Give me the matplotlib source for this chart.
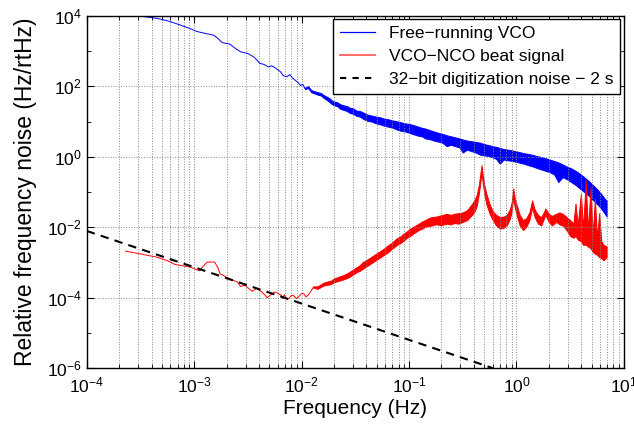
import numpy as np
import matplotlib
matplotlib.use("Agg")
import matplotlib.pyplot as plt
from matplotlib.lines import Line2D
from matplotlib.ticker import LogLocator, NullFormatter

plt.rcParams['font.family'] = ['Liberation Sans', 'DejaVu Sans']
plt.rcParams['mathtext.fontset'] = 'custom'
plt.rcParams['mathtext.rm'] = 'Liberation Sans'
plt.rcParams['mathtext.it'] = 'Liberation Sans:italic'
plt.rcParams['mathtext.bf'] = 'Liberation Sans:bold'

# values, stored as log10 exponents
# free-running VCO: thin wiggly part (single line)
blue_logf = [-3.60, -3.53, -3.45, -3.35, -3.25, -3.15, -3.04, -2.98, -2.94, -2.82,
             -2.78, -2.74, -2.67, -2.62, -2.57, -2.50, -2.45, -2.42, -2.39, -2.35,
             -2.31, -2.28, -2.25, -2.20, -2.17, -2.14, -2.11, -2.08, -2.06, -2.03,
             -2.01, -1.99, -1.97]
blue_logy = [4.04, 4.00, 3.97, 3.93, 3.86, 3.76, 3.64, 3.56, 3.53, 3.45,
             3.36, 3.24, 3.20, 3.08, 2.98, 2.93, 2.84, 2.76, 2.65, 2.62,
             2.55, 2.58, 2.53, 2.42, 2.30, 2.27, 2.33, 2.22, 2.17, 2.10,
             2.02, 2.06, 1.94]
# free-running VCO: noisy part (lower / upper edge of the band)
blue_band_logf = [-1.97, -1.94, -1.91, -1.89, -1.85, -1.82, -1.80, -1.77, -1.74, -1.72,
                  -1.70, -1.67, -1.64, -1.61, -1.58, -1.55, -1.52, -1.49, -1.46, -1.43,
                  -1.39, -1.35, -1.31, -1.27, -1.23, -1.19, -1.15, -1.12, -1.08, -1.04,
                  -1.00, -0.96, -0.92, -0.88, -0.85, -0.81, -0.77, -0.73, -0.69, -0.65,
                  -0.61, -0.57, -0.53, -0.50, -0.46, -0.42, -0.38, -0.34, -0.30, -0.26,
                  -0.22, -0.19, -0.155, -0.12, -0.08, -0.04, -0.01, 0.03, 0.07, 0.11,
                  0.155, 0.19, 0.23, 0.27, 0.31, 0.35, 0.39, 0.43, 0.47, 0.51,
                  0.55, 0.59, 0.63, 0.67, 0.71, 0.75, 0.78, 0.81, 0.84]
blue_band_lo = [1.92, 1.95, 1.83, 1.81, 1.76, 1.74, 1.68, 1.62, 1.55, 1.50,
                1.46, 1.44, 1.36, 1.33, 1.30, 1.24, 1.22, 1.16, 1.14, 1.08,
                1.02, 1.00, 0.95, 0.92, 0.88, 0.85, 0.82, 0.78, 0.74, 0.72,
                0.68, 0.64, 0.60, 0.58, 0.52, 0.50, 0.46, 0.43, 0.40, 0.30,
                0.34, 0.30, 0.26, 0.12, 0.20, 0.16, 0.12, 0.06, 0.04, 0.02,
                -0.02, -0.06, -0.20, -0.08, -0.10, -0.12, -0.14, -0.17, -0.20, -0.24,
                -0.28, -0.32, -0.36, -0.40, -0.44, -0.50, -0.72, -0.58, -0.64, -0.72,
                -0.80, -0.90, -1.00, -1.10, -1.22, -1.34, -1.44, -1.56, -1.70]
blue_band_hi = [1.96, 2.00, 1.89, 1.87, 1.83, 1.81, 1.76, 1.71, 1.66, 1.60,
                1.57, 1.55, 1.49, 1.46, 1.44, 1.39, 1.37, 1.31, 1.30, 1.26,
                1.20, 1.17, 1.14, 1.12, 1.08, 1.06, 1.03, 1.01, 0.98, 0.95,
                0.93, 0.90, 0.86, 0.82, 0.80, 0.76, 0.72, 0.68, 0.65, 0.61,
                0.58, 0.55, 0.52, 0.49, 0.46, 0.44, 0.42, 0.40, 0.36, 0.33,
                0.30, 0.28, 0.25, 0.22, 0.20, 0.18, 0.16, 0.13, 0.10, 0.08,
                0.05, 0.02, -0.01, -0.04, -0.08, -0.12, -0.16, -0.22, -0.28, -0.33,
                -0.40, -0.48, -0.58, -0.68, -0.80, -0.92, -1.02, -1.14, -1.26]

# VCO-NCO beat signal: thin part
red_logf = [-3.64, -3.50, -3.35, -3.25, -3.18, -3.10, -3.04, -2.95, -2.92, -2.88,
            -2.81, -2.78, -2.76, -2.70, -2.64, -2.60, -2.57, -2.53, -2.49, -2.46,
            -2.42, -2.37, -2.32, -2.28, -2.25, -2.22, -2.19, -2.18, -2.16, -2.14,
            -2.12, -2.10, -2.08, -2.05, -2.03, -2.00, -1.98, -1.96, -1.94, -1.91,
            -1.89]
red_logy = [-2.68, -2.76, -2.85, -2.95, -3.06, -3.10, -3.13, -3.24, -3.12, -2.99,
            -2.99, -3.15, -3.32, -3.42, -3.51, -3.55, -3.68, -3.65, -3.75, -3.82,
            -3.74, -3.84, -4.00, -3.90, -3.84, -3.88, -3.93, -4.02, -3.92, -4.05,
            -4.03, -3.95, -3.93, -4.02, -3.98, -3.88, -3.89, -3.98, -3.93, -3.80,
            -3.70]
# VCO-NCO beat signal: noisy part with the resonances
red_band_logf = [-1.89, -1.85, -1.80, -1.77, -1.73, -1.70, -1.65, -1.61, -1.56, -1.52,
                 -1.49, -1.46, -1.43, -1.39, -1.35, -1.31, -1.27, -1.23, -1.20, -1.16,
                 -1.12, -1.08, -1.05, -1.02, -0.99, -0.95, -0.92, -0.88, -0.84, -0.80,
                 -0.75, -0.70, -0.65, -0.61, -0.58, -0.54, -0.50, -0.46, -0.43, -0.41,
                 -0.39, -0.37, -0.35, -0.335, -0.325, -0.315, -0.30, -0.28, -0.25, -0.22,
                 -0.19, -0.155, -0.12, -0.09, -0.06, -0.045, -0.03, -0.015, 0.01, 0.03,
                 0.06, 0.09, 0.12, 0.146, 0.17, 0.20, 0.23, 0.25, 0.27, 0.30,
                 0.33, 0.37, 0.40, 0.43, 0.47, 0.50, 0.53, 0.55, 0.57, 0.60,
                 0.62, 0.645, 0.665, 0.69, 0.71, 0.73, 0.75, 0.77, 0.79, 0.81,
                 0.84]
red_band_lo = [-3.72, -3.75, -3.66, -3.64, -3.62, -3.56, -3.52, -3.48, -3.42, -3.34,
               -3.28, -3.24, -3.18, -3.10, -3.02, -2.94, -2.86, -2.78, -2.72, -2.62,
               -2.52, -2.45, -2.38, -2.30, -2.25, -2.16, -2.10, -2.04, -1.98, -1.96,
               -1.92, -1.94, -1.90, -1.92, -1.88, -1.90, -1.85, -1.80, -1.70, -1.64,
               -1.55, -1.40, -1.05, -0.70, -0.45, -0.72, -1.05, -1.35, -1.62, -1.80,
               -1.95, -2.04, -2.02, -1.95, -1.75, -1.55, -1.15, -1.45, -1.75, -1.95,
               -2.08, -2.00, -1.80, -1.45, -1.72, -1.90, -1.95, -1.80, -1.65, -1.85,
               -1.95, -1.85, -1.92, -1.95, -2.10, -2.25, -2.30, -2.25, -2.35, -2.40,
               -2.50, -2.50, -2.55, -2.60, -2.70, -2.75, -2.78, -2.85, -2.88, -2.94,
               -2.85]
red_band_hi = [-3.68, -3.68, -3.58, -3.55, -3.52, -3.46, -3.40, -3.36, -3.28, -3.20,
               -3.14, -3.08, -2.99, -2.92, -2.84, -2.76, -2.68, -2.60, -2.52, -2.44,
               -2.33, -2.26, -2.18, -2.12, -2.04, -1.97, -1.92, -1.84, -1.78, -1.72,
               -1.70, -1.66, -1.62, -1.65, -1.62, -1.60, -1.58, -1.52, -1.40, -1.32,
               -1.22, -1.08, -0.80, -0.45, -0.24, -0.50, -0.80, -1.05, -1.35, -1.55,
               -1.65, -1.71, -1.70, -1.65, -1.48, -1.30, -0.90, -1.20, -1.45, -1.65,
               -1.80, -1.75, -1.58, -1.24, -1.50, -1.65, -1.72, -1.60, -1.47, -1.62,
               -1.68, -1.62, -1.58, -1.62, -1.72, -1.80, -1.90, -1.33, -1.95, -1.05,
               -2.05, -0.67, -2.10, -0.86, -2.25, -1.19, -2.30, -1.60, -2.40, -2.50,
               -2.55]

# 32-bit digitization noise line (end points)
dig_f = [1e-4, 0.6]
dig_y = [7.8e-3, 1.0e-6]

labels = ['Free\u2212running VCO', 'VCO\u2212NCO beat signal',
          '32\u2212bit digitization noise \u2212 2 s']

def p10(a):
    return np.power(10.0, np.asarray(a))

fig = plt.figure(figsize=(6.34, 4.28), dpi=100)
ax = fig.add_axes([0.137, 0.140, 0.847, 0.823])

blue = '#0000ff'
red = '#ff0000'

# blue curve
ax.plot(p10(blue_logf), p10(blue_logy), color=blue, lw=0.7)
ax.fill_between(p10(blue_band_logf), p10(blue_band_lo), p10(blue_band_hi),
                facecolor=blue, edgecolor=blue, lw=0.7)

# red curve
ax.plot(p10(red_logf), p10(red_logy), color=red, lw=0.7)
ax.fill_between(p10(red_band_logf), p10(red_band_lo), p10(red_band_hi),
                facecolor=red, edgecolor=red, lw=0.7)

# digitization noise
ax.plot(dig_f, dig_y, color='black', lw=1.5, ls=(0, (4, 3)))

ax.set_xscale('log')
ax.set_yscale('log')
ax.set_xlim(1e-4, 1e1)
ax.set_ylim(1e-6, 1e4)

ax.xaxis.set_major_locator(LogLocator(base=10, numticks=20))
ax.xaxis.set_minor_locator(LogLocator(base=10, subs=np.arange(2, 10), numticks=50))
ax.xaxis.set_minor_formatter(NullFormatter())
ax.yaxis.set_major_locator(LogLocator(base=100, numticks=20))
ax.yaxis.set_minor_locator(LogLocator(base=10, subs=[], numticks=20))
ax.yaxis.set_minor_formatter(NullFormatter())

ax.grid(True, which='major', axis='both', ls=':', color='#888888', lw=0.7)
ax.grid(True, which='minor', axis='x', ls=':', color='#888888', lw=0.7)

ax.tick_params(which='both', direction='in', top=True, right=True,
               labelsize=12.5)
ax.tick_params(axis='x', which='major', pad=5)
ax.tick_params(which='major', length=5, width=0.8)
ax.tick_params(which='minor', length=3, width=0.6)
for s in ax.spines.values():
    s.set_linewidth(1.0)

ax.set_xlabel('Frequency (Hz)', fontsize=15, labelpad=3)
ax.set_ylabel('Relative frequency noise (Hz/rtHz)', fontsize=16.5, labelpad=7)

handles = [Line2D([], [], color=blue, lw=0.9),
           Line2D([], [], color='#ff5050', lw=1.2),
           Line2D([], [], color='black', lw=1.5, ls=(0, (3, 3)))]
leg = ax.legend(handles, labels, loc='upper right', fontsize=12.5, frameon=True,
                fancybox=False, framealpha=1, edgecolor='black',
                borderaxespad=0.2, borderpad=0.4, handlelength=2.0,
                handletextpad=0.8, labelspacing=0.45)
leg.get_frame().set_linewidth(1.0)

fig.savefig('out.png', dpi=100)
